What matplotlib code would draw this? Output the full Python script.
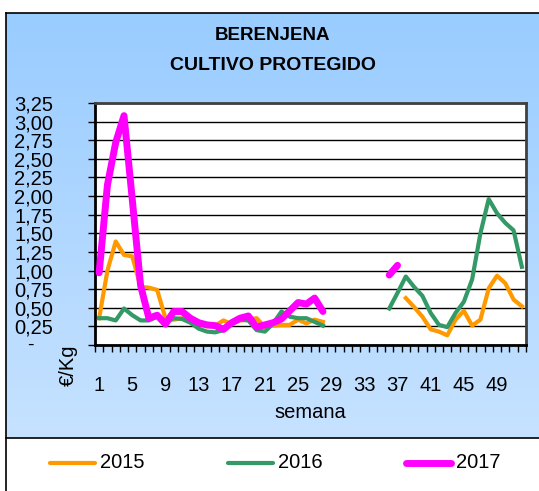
import numpy as np
import matplotlib
matplotlib.use("Agg")
import matplotlib.pyplot as plt
from matplotlib.lines import Line2D

nan = np.nan

# data: precio semanal (€/Kg), semanas 1..52
weeks = np.arange(1, 53)
p2015 = [0.36, 1.00, 1.39, 1.21, 1.19, 0.78, 0.77, 0.74, 0.36, 0.34,
         0.36, 0.32, 0.28, 0.25, 0.26, 0.33, 0.28, 0.33, 0.34, 0.36,
         0.24, 0.26, 0.27, 0.27, 0.34, 0.29, 0.34, 0.31, nan, nan,
         nan, nan, nan, nan, nan, nan, nan, 0.63, 0.51, 0.38,
         0.21, 0.18, 0.13, 0.34, 0.46, 0.26, 0.34, 0.76, 0.93, 0.83,
         0.61, 0.52]
p2016 = [0.36, 0.36, 0.33, 0.49, 0.40, 0.33, 0.33, 0.38, 0.30, 0.36,
         0.35, 0.30, 0.22, 0.18, 0.17, 0.20, 0.29, 0.34, 0.33, 0.20,
         0.18, 0.29, 0.45, 0.38, 0.36, 0.36, 0.31, 0.26, nan, nan,
         nan, nan, nan, nan, nan, 0.49, 0.70, 0.92, 0.78, 0.66,
         0.43, 0.27, 0.24, 0.43, 0.58, 0.88, 1.50, 1.96, 1.77, 1.64,
         1.54, 1.05]
p2017 = [0.97, 2.15, 2.72, 3.08, 1.95, 0.80, 0.36, 0.40, 0.28, 0.45,
         0.45, 0.36, 0.30, 0.27, 0.26, 0.21, 0.30, 0.36, 0.39, 0.24,
         0.27, 0.30, 0.35, 0.46, 0.57, 0.55, 0.63, 0.45, nan, nan,
         nan, nan, nan, nan, nan, 0.94, 1.07, nan, nan, nan,
         nan, nan, nan, nan, nan, nan, nan, nan, nan, nan,
         nan, nan]
yticks = np.arange(0, 3.26, 0.25)
xlabels = list(range(1, 50, 4))

plt.rcParams['font.family'] = ['Liberation Sans', 'DejaVu Sans']

W, H = 539, 491
fig = plt.figure(figsize=(W / 100, H / 100), dpi=100)
fig.patch.set_facecolor('white')

def fx(px):
    return px / W

def fy(py):
    return 1 - py / H

# background chart area with blue gradient
bg = fig.add_axes([fx(6), fy(438), fx(W - 6), (438 - 12.7) / H])
grad = np.linspace(0, 1, 256).reshape(-1, 1)
c_top = np.array([0x99, 0xCC, 0xFF]) / 255
c_bot = np.array([0xC6, 0xE2, 0xFF]) / 255
img = c_top[None, None, :] * (1 - grad[:, :, None]) + c_bot[None, None, :] * grad[:, :, None]
bg.imshow(img, aspect='auto', extent=[0, 1, 0, 1])
bg.set_xlim(0, 1)
bg.set_ylim(0, 1)
bg.axis('off')
fig.add_artist(Line2D([fx(6), fx(6)], [fy(12.7), 0], color='black', lw=1.2))
fig.add_artist(Line2D([fx(6), 1], [fy(12.7), fy(12.7)], color='black', lw=1.2))
fig.add_artist(Line2D([fx(6), 1], [fy(438), fy(438)], color='black', lw=1.2))

fig.text(fx(273), fy(36), 'BERENJENA', ha='center', va='center',
         fontsize=13.5, fontweight='bold')
fig.text(fx(273), fy(66), 'CULTIVO PROTEGIDO', ha='center', va='center',
         fontsize=14, fontweight='bold')

ax = fig.add_axes([fx(95), fy(345), fx(431), 242 / H])
ax.set_facecolor('white')
ax.plot(weeks, p2015, color='#FF9900', lw=3, solid_joinstyle='round', zorder=3)
ax.plot(weeks, p2016, color='#339966', lw=3, solid_joinstyle='round', zorder=3)
ax.plot(weeks, p2017, color='#FF00FF', lw=5, solid_joinstyle='round',
        solid_capstyle='round', zorder=4)

ax.set_xlim(0.5, 52.5)
ax.set_ylim(0, 3.25)
ax.set_yticks(yticks)
ax.set_yticklabels(['' if v == 0 else f'{v:.2f}'.replace('.', ',') for v in yticks],
                   fontsize=14.5)
ax.text(-0.151, 0, '-', transform=ax.get_yaxis_transform(), ha='center', va='center',
        fontsize=14)
ax.tick_params(axis='y', direction='out', length=5, width=1, pad=25)
ax.set_xticks(xlabels)
ax.set_xticklabels([str(v) for v in xlabels], fontsize=14.5)
ax.set_xticks(np.arange(0.5, 53, 1), minor=True)
ax.tick_params(axis='x', which='major', length=0, pad=22)
ax.tick_params(axis='x', which='minor', direction='out', length=5, width=1)
ax.yaxis.grid(True, color='black', lw=1)
ax.set_axisbelow(True)
for s in ['left', 'bottom']:
    ax.spines[s].set_linewidth(2)
    ax.spines[s].set_color('black')
for s in ['top', 'right']:
    ax.spines[s].set_linewidth(2)
    ax.spines[s].set_color('#404040')

fig.text(fx(68), fy(365), '€/Kg', rotation=90, ha='center', va='center', fontsize=14.5)
fig.text(fx(310), fy(412), 'semana', ha='center', va='center', fontsize=14.5)

# legend
leg = [('2015', '#FF9900', 3, 50), ('2016', '#339966', 3, 228), ('2017', '#FF00FF', 5, 406)]
for lab, col, lw, x0 in leg:
    fig.add_artist(Line2D([fx(x0), fx(x0 + 45)], [fy(463), fy(463)], color=col, lw=lw,
                          solid_capstyle='round'))
    fig.text(fx(x0 + 50), fy(463), lab, ha='left', va='center', fontsize=14.5)

fig.savefig('out.png', dpi=100)
